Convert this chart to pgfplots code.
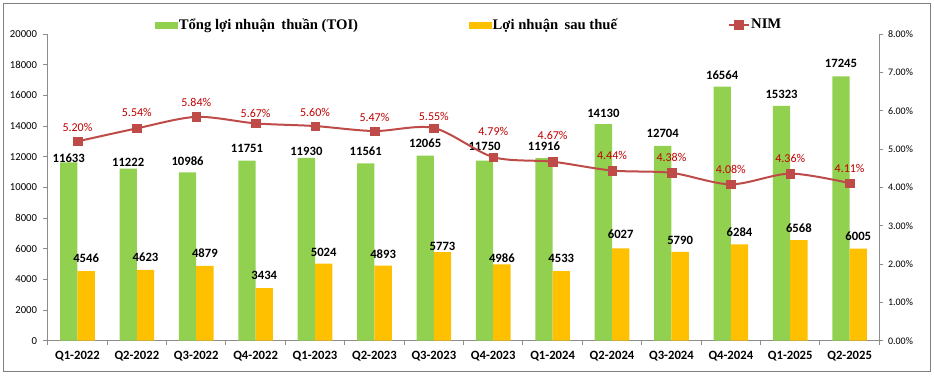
\documentclass[border=0pt]{standalone}
\usepackage{pgfplots}
\pgfplotsset{compat=1.18}
\usepackage{pgfplotstable}
\usepackage{fontspec}
\setmainfont{Carlito}
\newfontfamily\legfont{Liberation Serif}
\definecolor{tgreen}{HTML}{92D050}
\definecolor{torange}{HTML}{FFC000}
\definecolor{nimline}{HTML}{BE4B48}
\definecolor{nimlab}{HTML}{C00000}
\definecolor{axgray}{HTML}{8C8C8C}
\definecolor{framegray}{HTML}{808080}

\pgfplotstableread{
x toi dtoi npat dnpat nim dnim
0 11633 3.3 4546 9.75 5.20 10.5
1 11222 4.5 4623 9.2 5.54 12
2 10986 8.55 4879 9.2 5.84 11
3 11751 9.45 3434 9.75 5.67 7.5
4 11930 4.5 5024 8.25 5.60 10.5
5 11561 9 4893 8.8 5.47 10.5
6 12065 9.75 5773 4.5 5.55 9
7 11750 10.5 4986 4.7 4.79 19.5
8 11916 9 4533 9.5 4.67 19.5
9 14130 8.25 6027 10.5 4.44 11.25
10 12704 9.5 5790 8.8 4.38 11.25
11 16564 8.5 6284 9.5 4.08 11.25
12 15323 8.8 6568 9 4.36 11.25
13 17245 9.5 6005 9.2 4.11 10.8
}\data

\pgfplotsset{
  greenleg/.style={legend image code/.code={\fill[tgreen] (0pt,-2pt) rectangle (16.5pt,2pt);}},
  orangeleg/.style={legend image code/.code={\fill[torange] (0pt,-2pt) rectangle (16.5pt,2pt);}},
  nimleg/.style={legend image code/.code={%
    \draw[nimline, line width=1.5pt] (0pt,0pt) -- (15pt,0pt);
    \fill[nimline] (4.3pt,-3.2pt) rectangle (10.7pt,3.2pt);}},
}

\begin{document}
\begin{tikzpicture}
\useasboundingbox (0,0) rectangle (700.5pt,282.75pt);
\draw[framegray, line width=0.75pt] (2.5pt,3.75pt) rectangle (697.5pt,279.75pt);

\begin{axis}[
  at={(35.8pt,27.2pt)}, anchor=south west,
  scale only axis, width=623.7pt, height=230pt,
  xmin=-0.5, xmax=13.5, ymin=0, ymax=20000,
  axis y line*=left, axis x line*=bottom,
  axis line style={axgray, line width=0.75pt},
  ybar=0pt, bar width=13pt,
  xtick={0,...,13},
  xticklabels={Q1-2022,Q2-2022,Q3-2022,Q4-2022,Q1-2023,Q2-2023,Q3-2023,Q4-2023,Q1-2024,Q2-2024,Q3-2024,Q4-2024,Q1-2025,Q2-2025},
  major x tick style={draw=none},
  minor xtick={-0.5,0.5,...,13.5},
  ytick={0,2000,...,20000},
  scaled y ticks=false,
  tick align=outside, major tick length=3.3pt, minor tick length=3pt,
  every tick/.style={axgray, line width=0.75pt},
  yticklabel style={font=\fontsize{8}{9}\selectfont, xshift=-1.2pt},
  xticklabel style={font=\fontsize{9.5}{11}\selectfont\bfseries, yshift=-1pt},
  /pgf/number format/assume math mode=true,
  /pgf/number format/1000 sep={},
  nodes near coords,
  nodes near coords style={font=\fontsize{9.5}{11}\selectfont\bfseries, text=black},
  clip=false,
]
\addplot[fill=tgreen, draw=none,
  visualization depends on={\thisrow{dtoi} \as \dy},
  every node near coord/.append style={anchor=center, yshift=\dy pt}]
  table[x=x, y=toi]{\data};
\addplot[fill=torange, draw=none,
  visualization depends on={\thisrow{dnpat} \as \dy},
  every node near coord/.append style={anchor=center, yshift=\dy pt}]
  table[x=x, y=npat]{\data};
\end{axis}

\begin{axis}[
  at={(35.8pt,27.2pt)}, anchor=south west,
  scale only axis, width=623.7pt, height=230pt,
  xmin=-0.5, xmax=13.5, ymin=0, ymax=8,
  axis y line*=right, axis x line=none,
  axis line style={axgray, line width=0.75pt},
  ytick={0,...,8},
  tick align=outside, major tick length=3pt,
  every tick/.style={axgray, line width=0.75pt},
  /pgf/number format/assume math mode=true,
  yticklabel={\pgfmathprintnumber[fixed,fixed zerofill,precision=2]{\tick}\%},
  yticklabel style={font=\fontsize{7.5}{9}\selectfont},
  clip=false,
  legend columns=3,
  legend style={at={(0.129,1.029)}, anchor=west, draw=none, fill=none,
    inner sep=0pt, outer sep=0pt,
    nodes={inner xsep=1pt, inner ysep=0pt},
    font=\legfont\bfseries\fontsize{11}{13}\selectfont,
    /tikz/every even column/.append style={column sep=82pt}},
]
\addlegendimage{greenleg}
\addlegendentry{Tổng lợi nhuận\hspace{2pt} thuần (TOI)}
\addlegendimage{orangeleg}
\addlegendentry{Lợi nhuận\hspace{2pt} sau thuế}
\addplot[smooth, nimline, line width=1.5pt, mark=square*,
  mark size=3.2pt, mark options={fill=nimline, draw=nimline, line width=0.3pt},
  nodes near coords={\pgfmathprintnumber[fixed,fixed zerofill,precision=2]{\pgfplotspointmeta}\%},
  nodes near coords style={font=\fontsize{9}{10}\selectfont, text=nimlab},
  visualization depends on={\thisrow{dnim} \as \dy},
  every node near coord/.append style={anchor=center, yshift=\dy pt},
  nimleg]
  table[x=x, y=nim]{\data};
\addlegendentry{NIM}
\end{axis}
\end{tikzpicture}
\end{document}
